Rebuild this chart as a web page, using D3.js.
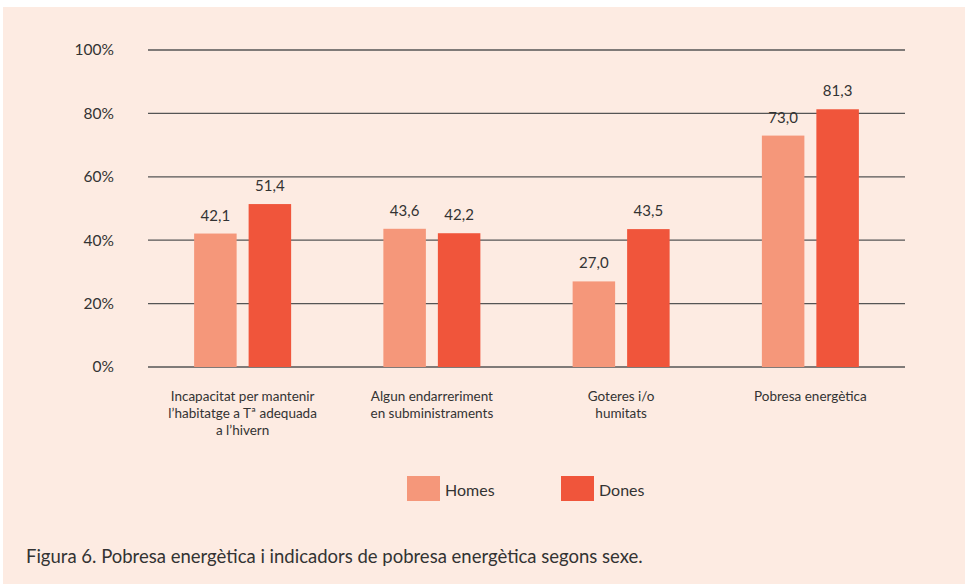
<!DOCTYPE html>
<html>
<head>
<meta charset="utf-8">
<script src="https://cdn.jsdelivr.net/npm/d3@7"></script>
<style>
  body { margin: 0; background: #fff; }
  svg { display: block; font-family: Lato, "Open Sans", sans-serif; }
</style>
</head>
<body>
<div id="chart"></div>
<script>
// Data
const categories = [
  ["Incapacitat per mantenir", "l\u2019habitatge a T\u00aa adequada", "a l\u2019hivern"],
  ["Algun endarreriment", "en subministraments"],
  ["Goteres i/o", "humitats"],
  ["Pobresa energ\u00e8tica"]
]
const seriesNames = ["Homes", "Dones"]
const homes = [42.1, 43.6, 27.0, 73.0]
const dones = [51.4, 42.2, 43.5, 81.3]
const yTicks = [0, 20, 40, 60, 80, 100]
const caption = "Figura 6. Pobresa energ\u00e8tica i indicadors de pobresa energ\u00e8tica segons sexe."

const colors = ["#f5977a", "#f0553b"]
const width = 965, height = 584

const svg = d3.select('#chart').append('svg')
  .attr('width', width)
  .attr('height', height)

// Panel background
svg.append('rect')
  .attr('x', 3).attr('y', 7)
  .attr('width', width - 3).attr('height', height - 7)
  .attr('fill', '#fdebe2')

// Scales
const x0 = d3.scaleBand()
  .domain(d3.range(categories.length))
  .range([148, 905])

const x1 = d3.scaleBand()
  .domain(seriesNames)
  .range([0, 97])
  .paddingInner(0.22)

const y = d3.scaleLinear()
  .domain([0, 100])
  .range([367, 50])

// Gridlines
svg.append('g')
  .selectAll('line')
  .data(yTicks)
  .join('line')
  .attr('x1', 148).attr('x2', 905)
  .attr('y1', d => y(d)).attr('y2', d => y(d))
  .attr('stroke', '#555')
  .attr('stroke-width', 1.3)

// Y axis labels
svg.append('g')
  .selectAll('text')
  .data(yTicks)
  .join('text')
  .attr('x', 114)
  .attr('y', d => y(d))
  .attr('dy', '0.35em')
  .attr('text-anchor', 'end')
  .attr('font-size', 15.5)
  .attr('fill', '#333')
  .text(d => d + '%')

// Bars
const rows = categories.map((c, i) => ({ i: i, values: [homes[i], dones[i]] }))

const groups = svg.append('g')
  .selectAll('g')
  .data(rows)
  .join('g')
  .attr('transform', d => `translate(${x0(d.i) + x0.bandwidth() / 2 - 48.5},0)`)

groups.selectAll('rect')
  .data(d => d.values.map((v, k) => ({ name: seriesNames[k], v: v, k: k })))
  .join('rect')
  .attr('x', d => x1(d.name))
  .attr('y', d => y(d.v))
  .attr('width', x1.bandwidth())
  .attr('height', d => y(0) - y(d.v))
  .attr('fill', d => colors[d.k])

groups.selectAll('text')
  .data(d => d.values.map((v, k) => ({ name: seriesNames[k], v: v })))
  .join('text')
  .attr('x', d => x1(d.name) + x1.bandwidth() / 2)
  .attr('y', d => y(d.v) - 13)
  .attr('text-anchor', 'middle')
  .attr('font-size', 15)
  .attr('fill', '#333')
  .text(d => d.v.toFixed(1).replace('.', ','))

// Category labels
svg.append('g')
  .selectAll('text')
  .data(categories)
  .join('text')
  .attr('text-anchor', 'middle')
  .attr('font-size', 13.5)
  .attr('fill', '#333')
  .each(function (lines, i) {
    d3.select(this).selectAll('tspan')
      .data(lines)
      .join('tspan')
      .attr('x', x0(i) + x0.bandwidth() / 2)
      .attr('y', (d, j) => 401 + j * 17)
      .text(d => d)
  })

// Legend
const legendX = [407, 561]
const legend = svg.append('g')
  .selectAll('g')
  .data(seriesNames)
  .join('g')
  .attr('transform', (d, i) => `translate(${legendX[i]},476)`)

legend.append('rect')
  .attr('width', 33).attr('height', 25)
  .attr('fill', (d, i) => colors[i])

legend.append('text')
  .attr('x', 38).attr('y', 14)
  .attr('dy', '0.35em')
  .attr('font-size', 16)
  .attr('fill', '#333')
  .text(d => d)

// Caption
svg.append('text')
  .attr('x', 26).attr('y', 563)
  .attr('font-size', 18.5)
  .attr('fill', '#333')
  .text(caption)
</script>
</body>
</html>
